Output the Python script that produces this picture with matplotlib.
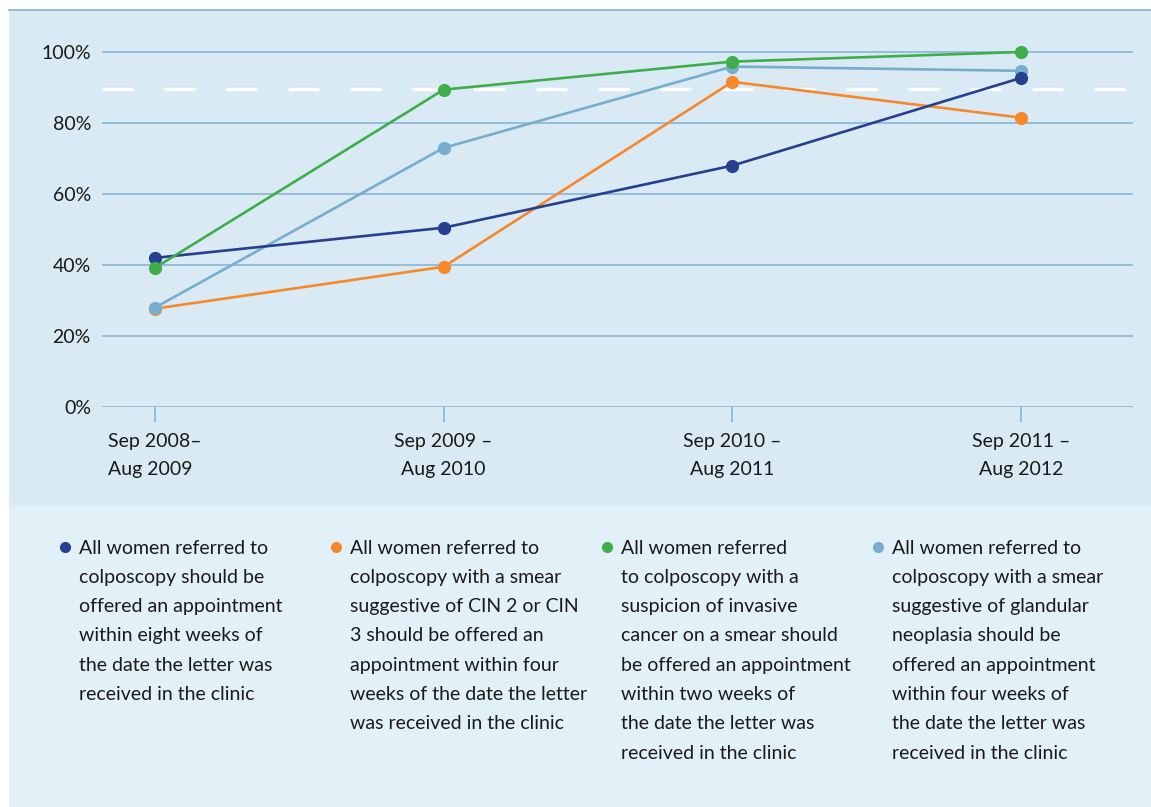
import numpy as np
import matplotlib.pyplot as plt
from matplotlib.patches import Rectangle

plt.rcParams['font.family'] = ['Lato', 'DejaVu Sans']

W, H = 1151, 807

periods = ["Sep 2008–\nAug 2009", "Sep 2009 –\nAug 2010", "Sep 2010 –\nAug 2011", "Sep 2011 –\nAug 2012"]
eight_weeks = [42, 50.5, 68, 92.7]
cin_four_weeks = [27.7, 39.5, 91.6, 81.5]
invasive_two_weeks = [39.2, 89.4, 97.3, 100]
glandular_four_weeks = [28, 73, 95.9, 94.7]
target = 89.5
y_ticks = [0, 20, 40, 60, 80, 100]

legend_lines = [
    ["All women referred to", "colposcopy should be", "offered an appointment",
     "within eight weeks of", "the date the letter was", "received in the clinic"],
    ["All women referred to", "colposcopy with a smear", "suggestive of CIN 2 or CIN",
     "3 should be offered an", "appointment within four", "weeks of the date the letter",
     "was received in the clinic"],
    ["All women referred", "to colposcopy with a", "suspicion of invasive",
     "cancer on a smear should", "be offered an appointment", "within two weeks of",
     "the date the letter was", "received in the clinic"],
    ["All women referred to", "colposcopy with a smear", "suggestive of glandular",
     "neoplasia should be", "offered an appointment", "within four weeks of",
     "the date the letter was", "received in the clinic"],
]

c_dark = '#263f8e'
c_orange = '#f6882b'
c_green = '#3fae4a'
c_light = '#78aecd'
grid_c = '#7fb3d5'
txt_c = '#1a1a1a'
fs = 14

fig = plt.figure(figsize=(W / 100, H / 100), dpi=100)
fig.patch.set_facecolor('white')

def fx(px):
    return px / W

def fy(py):
    return 1 - py / H

# background panels
fig.patches.append(Rectangle((fx(9), fy(505)), fx(W - 9), (505 - 10) / H,
                             transform=fig.transFigure, facecolor='#d9eaf4', edgecolor='none', zorder=-5))
fig.patches.append(Rectangle((fx(9), fy(807)), fx(W - 9), (807 - 505) / H,
                             transform=fig.transFigure, facecolor='#e2f0f8', edgecolor='none', zorder=-5))
fig.lines.append(plt.Line2D([fx(9), 1], [fy(10), fy(10)], transform=fig.transFigure,
                            color=grid_c, linewidth=1.2, zorder=-4))

# axes: 0% at px 407, 100% at px 52
ppu = (407 - 52) / 100
ytop = 104
ax = fig.add_axes([fx(102), fy(407), fx(1133 - 102), ytop * ppu / H])
ax.set_facecolor('none')
x = np.arange(len(periods))
xs = (1021 - 155) / 3
ax.set_xlim(-(155 - 102) / xs, 3 + (1133 - 1021) / xs)
ax.set_ylim(0, ytop)
for s in ax.spines.values():
    s.set_visible(False)
for v in y_ticks:
    ax.axhline(v, color=grid_c, linewidth=1.1, zorder=1)
ax.axhline(target, color='white', linewidth=2.4, dashes=(9.3, 9.3), zorder=1.5)

ax.set_yticks(y_ticks)
ax.set_yticklabels([f"{v}%" for v in y_ticks])
ax.tick_params(axis='y', length=0, pad=8, labelsize=fs, labelcolor=txt_c)
ax.set_xticks(x)
ax.set_xticklabels(periods)
ax.tick_params(axis='x', length=11, width=1.1, color=grid_c, direction='out', pad=8,
               labelsize=fs, labelcolor=txt_c)
for i, lab in enumerate(ax.get_xticklabels()):
    lab.set_multialignment('left' if i == 0 else 'center')
    lab.set_linespacing(1.75)

kw = dict(marker='o', markersize=8.5, linewidth=1.9, clip_on=False)
ax.plot(x, cin_four_weeks, color=c_orange, zorder=3, **kw)
ax.plot(x, glandular_four_weeks, color=c_light, zorder=4, **kw)
ax.plot(x, eight_weeks, color=c_dark, zorder=5, **kw)
ax.plot(x, invasive_two_weeks, color=c_green, zorder=6, **kw)

# legend block
bullet_x = [65, 336, 607, 878]
colors = [c_dark, c_orange, c_green, c_light]
line_h = 29.3
for bx, col, lines in zip(bullet_x, colors, legend_lines):
    fig.lines.append(plt.Line2D([fx(bx)], [fy(547)], transform=fig.transFigure,
                                marker='o', markersize=7, color=col, linestyle='none'))
    for k, t in enumerate(lines):
        fig.text(fx(bx + 14), fy(548 + k * line_h), t, fontsize=fs, color=txt_c,
                 ha='left', va='center')

fig.savefig('out.png', dpi=100)
